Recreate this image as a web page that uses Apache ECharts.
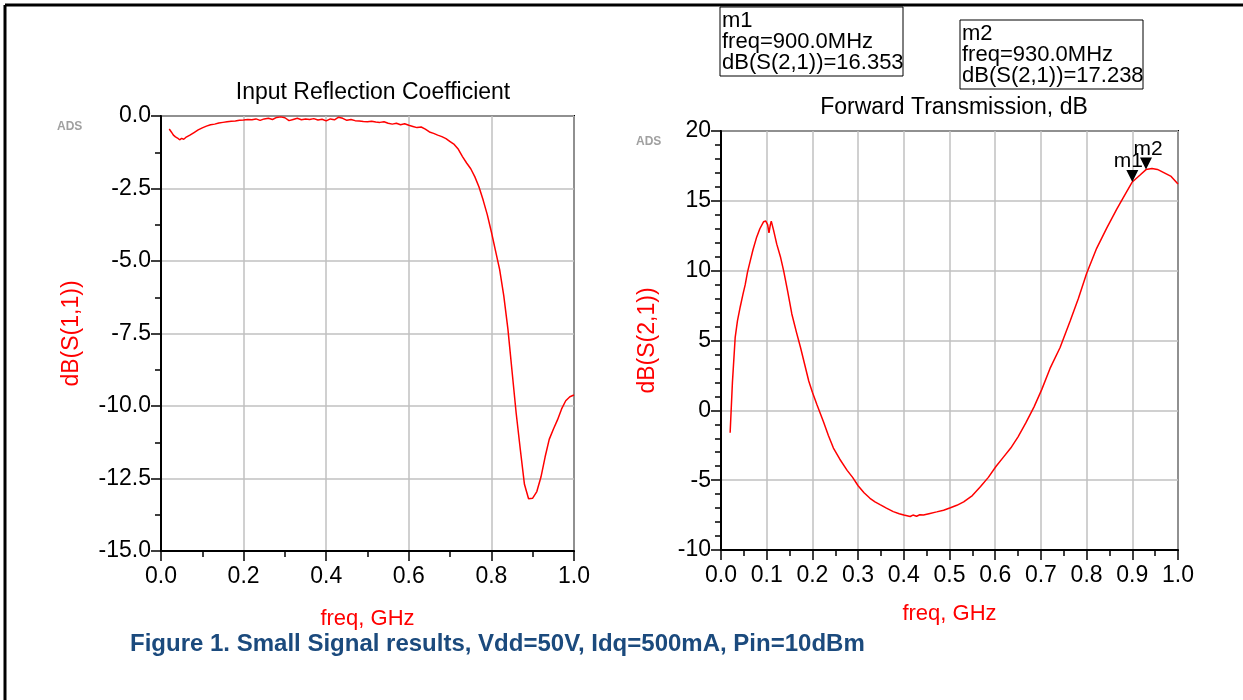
<!DOCTYPE html>
<html>
<head>
<meta charset="utf-8">
<script src="https://cdn.jsdelivr.net/npm/echarts@6/dist/echarts.min.js"></script>
<style>
html, body { margin: 0; padding: 0; background: #fff; }
#chart { width: 1243px; height: 700px; }
</style>
</head>
<body>
<div id="chart"></div>
<script>
// S11 (input reflection), freq in GHz
const s11Freq = [0.020,0.025,0.030,0.035,0.040,0.045,0.050,0.055,0.060,0.070,0.080,0.090,0.100,0.110,0.120,0.130,0.140,0.150,0.160,0.170,0.180,0.190,0.200,0.210,0.220,0.230,0.240,0.250,0.260,0.270,0.280,0.290,0.300,0.310,0.320,0.330,0.340,0.350,0.360,0.370,0.380,0.390,0.400,0.410,0.420,0.430,0.440,0.450,0.460,0.470,0.480,0.490,0.500,0.510,0.520,0.530,0.540,0.550,0.560,0.570,0.580,0.590,0.600,0.610,0.620,0.630,0.640,0.650,0.660,0.670,0.680,0.690,0.700,0.710,0.720,0.730,0.740,0.750,0.760,0.770,0.780,0.790,0.800,0.810,0.820,0.830,0.840,0.850,0.860,0.870,0.880,0.890,0.900,0.910,0.920,0.930,0.940,0.950,0.960,0.970,0.980,0.990,1.000];
const s11dB = [-0.45,-0.55,-0.66,-0.72,-0.76,-0.82,-0.77,-0.80,-0.74,-0.66,-0.57,-0.48,-0.41,-0.35,-0.30,-0.28,-0.24,-0.22,-0.20,-0.18,-0.17,-0.15,-0.14,-0.12,-0.13,-0.10,-0.15,-0.10,-0.08,-0.12,-0.05,-0.03,-0.06,-0.16,-0.12,-0.08,-0.13,-0.10,-0.12,-0.09,-0.14,-0.11,-0.17,-0.10,-0.13,-0.04,-0.08,-0.15,-0.12,-0.16,-0.17,-0.19,-0.20,-0.18,-0.21,-0.22,-0.20,-0.25,-0.28,-0.25,-0.30,-0.27,-0.32,-0.36,-0.40,-0.38,-0.45,-0.55,-0.60,-0.66,-0.71,-0.78,-0.88,-0.98,-1.15,-1.40,-1.62,-1.82,-2.10,-2.45,-2.90,-3.40,-4.00,-4.65,-5.30,-6.20,-7.35,-8.80,-10.25,-11.50,-12.70,-13.20,-13.18,-12.95,-12.45,-11.76,-11.15,-10.80,-10.48,-10.10,-9.82,-9.68,-9.62];

// S21 (forward transmission)
const s21Freq = [0.020,0.025,0.031,0.036,0.042,0.048,0.053,0.058,0.064,0.070,0.078,0.085,0.093,0.098,0.102,0.105,0.108,0.110,0.115,0.122,0.130,0.137,0.146,0.155,0.165,0.174,0.183,0.192,0.200,0.210,0.224,0.235,0.246,0.260,0.276,0.288,0.300,0.313,0.326,0.337,0.348,0.362,0.377,0.390,0.400,0.414,0.420,0.428,0.435,0.443,0.455,0.472,0.487,0.502,0.516,0.531,0.550,0.568,0.585,0.602,0.618,0.634,0.650,0.667,0.685,0.702,0.720,0.742,0.764,0.782,0.800,0.822,0.844,0.866,0.884,0.900,0.917,0.930,0.943,0.955,0.970,0.985,1.000];
const s21dB = [-1.6,2.0,5.2,6.4,7.4,8.3,9.0,9.9,10.7,11.5,12.4,13.0,13.5,13.55,13.3,12.7,13.3,13.55,12.9,11.9,11.0,10.0,8.5,6.9,5.6,4.5,3.3,2.1,1.3,0.4,-0.8,-1.8,-2.7,-3.5,-4.3,-4.8,-5.4,-5.9,-6.3,-6.55,-6.75,-7.0,-7.25,-7.4,-7.5,-7.6,-7.5,-7.58,-7.48,-7.5,-7.4,-7.27,-7.15,-6.98,-6.8,-6.55,-6.1,-5.46,-4.8,-4.0,-3.35,-2.7,-1.9,-0.9,0.25,1.5,3.0,4.5,6.4,8.0,9.8,11.6,13.05,14.4,15.45,16.353,16.85,17.238,17.32,17.25,17.0,16.75,16.2];

// markers
const markerNames = ['m1', 'm2'];
const markerFreq = [0.900, 0.930];
const markerVal = [16.353, 17.238];

const s11Ticks = { min: -15, max: 0, step: 2.5 };
const s21Ticks = { min: -10, max: 20, step: 5 };

const FONT = 'Liberation Sans, Arial, sans-serif';

function zip(xs, ys) {
  return xs.map((x, i) => [x, ys[i]]);
}

function xAxisOf(idx, step, minorSplit) {
  return {
    gridIndex: idx,
    type: 'value',
    min: 0, max: 1, interval: step,
    axisLine: { onZero: false, lineStyle: { color: '#000', width: 2 } },
    axisTick: { length: 10, lineStyle: { color: '#000', width: 1.5 } },
    minorTick: { show: true, splitNumber: minorSplit, length: 6, lineStyle: { color: '#000', width: 1.5 } },
    splitLine: { show: true, lineStyle: { color: '#c0c0c0', width: 1.5 } },
    axisLabel: { formatter: v => v.toFixed(1), color: '#000', fontSize: 23, fontFamily: FONT, margin: 14 },
    name: 'freq, GHz',
    nameLocation: 'middle',
    nameGap: idx === 0 ? 57 : 53,
    nameTextStyle: { color: '#ff0000', fontSize: 22, fontFamily: FONT }
  };
}

function yAxisOf(idx, t, minorSplit, digits, name, gap) {
  return {
    gridIndex: idx,
    type: 'value',
    min: t.min, max: t.max, interval: t.step,
    axisLine: { onZero: false, lineStyle: { color: '#000', width: 2 } },
    axisTick: { length: 10, lineStyle: { color: '#000', width: 1.5 } },
    minorTick: { show: true, splitNumber: minorSplit, length: 6, lineStyle: { color: '#000', width: 1.5 } },
    splitLine: { show: true, lineStyle: { color: '#c0c0c0', width: 1.5 } },
    axisLabel: { formatter: v => v.toFixed(digits), color: '#000', fontSize: 23, fontFamily: FONT, margin: 10 },
    name: name,
    nameLocation: 'middle',
    nameRotate: 90,
    nameGap: gap,
    nameTextStyle: { color: '#ff0000', fontSize: 23, fontFamily: FONT }
  };
}

const markerBoxes = [[720, 7], [960, 20]];

const chart = echarts.init(document.getElementById('chart'));
chart.setOption({
  animation: false,
  backgroundColor: '#fff',
  title: [{
    text: 'Input Reflection Coefficient',
    left: 368, top: 76, textAlign: 'center',
    textStyle: { color: '#000', fontSize: 23, fontWeight: 'normal', fontFamily: FONT }
  }, {
    text: 'Forward Transmission, dB',
    left: 949, top: 91, textAlign: 'center',
    textStyle: { color: '#000', fontSize: 23, fontWeight: 'normal', fontFamily: FONT }
  }],
  grid: [
    { left: 161, top: 116, width: 413, height: 435, show: true, borderColor: '#000', borderWidth: 2 },
    { left: 721, top: 131, width: 457, height: 419, show: true, borderColor: '#000', borderWidth: 2 }
  ],
  xAxis: [xAxisOf(0, 0.2, 2), xAxisOf(1, 0.1, 2)],
  yAxis: [
    yAxisOf(0, s11Ticks, 2, 1, 'dB(S(1,1))', 78),
    yAxisOf(1, s21Ticks, 5, 0, 'dB(S(2,1))', 62)
  ],
  series: [{
    name: 'dB(S(1,1))',
    type: 'line',
    xAxisIndex: 0, yAxisIndex: 0,
    data: zip(s11Freq, s11dB),
    showSymbol: false,
    lineStyle: { color: '#ff0000', width: 1.5 }
  }, {
    name: 'dB(S(2,1))',
    type: 'line',
    xAxisIndex: 1, yAxisIndex: 1,
    data: zip(s21Freq, s21dB),
    showSymbol: false,
    lineStyle: { color: '#ff0000', width: 1.5 },
    markPoint: {
      symbol: 'triangle',
      symbolRotate: 180,
      symbolSize: [12, 12],
      symbolOffset: [0, -6],
      itemStyle: { color: '#000' },
      label: {
        show: true, position: 'top', distance: 1,
        formatter: '{b}', color: '#000', fontSize: 21, fontFamily: FONT
      },
      data: markerNames.map((n, i) => ({
        name: n,
        coord: [markerFreq[i], markerVal[i]],
        label: { offset: i === 0 ? [-4, 3] : [2, 3] }
      }))
    }
  }],
  graphic: [
    { type: 'line', shape: { x1: 5, y1: 5, x2: 1243, y2: 5 }, style: { stroke: '#000', lineWidth: 3 } },
    { type: 'line', shape: { x1: 5, y1: 5, x2: 5, y2: 700 }, style: { stroke: '#000', lineWidth: 3 } },
    { type: 'text', left: 57, top: 121, style: { text: 'ADS', fill: '#a0a0a0', font: 'bold 12px ' + FONT } },
    { type: 'text', left: 636, top: 136, style: { text: 'ADS', fill: '#a0a0a0', font: 'bold 12px ' + FONT } },
    {
      type: 'text', left: 130, top: 632,
      style: { text: 'Figure 1. Small Signal results, Vdd=50V, Idq=500mA, Pin=10dBm', fill: '#1b4a7d', font: 'bold 24px ' + FONT }
    }
  ].concat(markerBoxes.flatMap((p, i) => [
    { type: 'rect', shape: { x: p[0], y: p[1], width: 183, height: 69 }, style: { fill: '#fff', stroke: '#000', lineWidth: 1 } },
    {
      type: 'text', x: p[0] + 2, y: p[1] + 3,
      style: {
        text: markerNames[i] + '\nfreq=' + (markerFreq[i] * 1000).toFixed(1) + 'MHz\ndB(S(2,1))=' + markerVal[i].toFixed(3),
        fill: '#000', font: '22px ' + FONT, lineHeight: 21
      }
    }
  ]))
});
</script>
</body>
</html>
